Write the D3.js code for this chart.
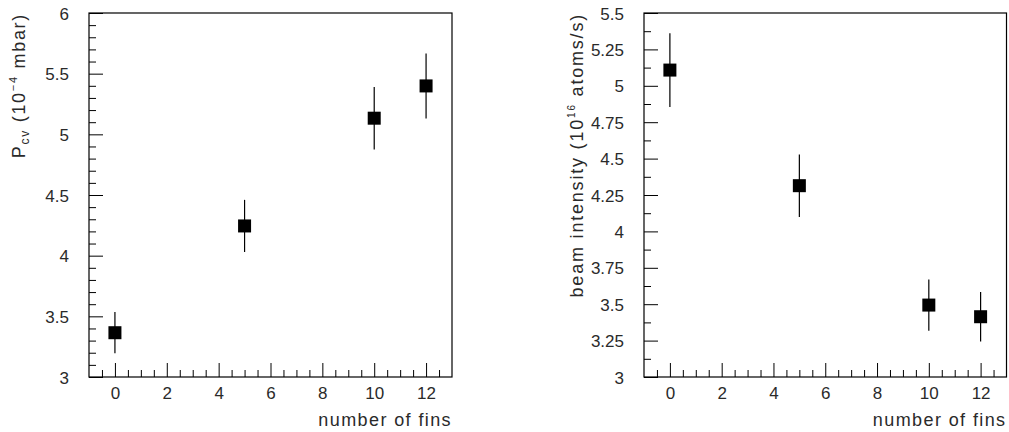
<!DOCTYPE html>
<html>
<head>
<meta charset="utf-8">
<script src="https://cdn.jsdelivr.net/npm/d3@7"></script>
<style>
  html, body { margin: 0; padding: 0; background: #fff; }
  svg { display: block; }
  text { font-family: "Liberation Sans", Arial, sans-serif; fill: #2a2a2a; }
</style>
</head>
<body>
<svg id="chart" width="1009" height="432"></svg>
<script>
// ---- data ----
const fins = [0, 5, 10, 12];
const pressure = [3.365, 4.245, 5.133, 5.399];
const pressureErr = [0.17, 0.215, 0.257, 0.268];
const intensity = [5.108, 4.314, 3.494, 3.414];
const intensityErr = [0.253, 0.215, 0.176, 0.17];

const xMajorTicks = [0, 2, 4, 6, 8, 10, 12];
const leftYMajorTicks = [3, 3.5, 4, 4.5, 5, 5.5, 6];
const rightYMajorTicks = [3, 3.25, 3.5, 3.75, 4, 4.25, 4.5, 4.75, 5, 5.25, 5.5];

const svg = d3.select("#chart");

function panel(opts) {
  const x = d3.scaleLinear().domain([-1, 13]).range([opts.x0, opts.x1]);
  const y = d3.scaleLinear().domain(opts.yDomain).range([377, 13]);
  const g = svg.append("g");

  // minor x ticks
  const xMinor = d3.range(-0.5, 13, 0.5).filter(v => xMajorTicks.indexOf(v) < 0);
  g.append("g").attr("transform", "translate(0,377)")
    .call(d3.axisBottom(x).tickValues(xMinor).tickSize(-7).tickFormat(""))
    .call(s => s.select(".domain").remove());
  g.append("g").attr("transform", "translate(0,377)")
    .call(d3.axisBottom(x).tickValues(xMajorTicks).tickSize(-14).tickPadding(10).tickFormat(d3.format("d")))
    .call(s => s.select(".domain").remove())
    .call(s => s.selectAll("text").attr("font-size", 17).style("font-family", "Liberation Sans, Arial, sans-serif"));

  // minor y ticks
  const yMinor = d3.range(opts.yDomain[0], opts.yDomain[1] + 1e-9, opts.yMinorStep)
    .map(v => +v.toFixed(4))
    .filter(v => !opts.yMajor.some(m => Math.abs(m - v) < 1e-6));
  g.append("g").attr("transform", `translate(${opts.x0},0)`)
    .call(d3.axisLeft(y).tickValues(yMinor).tickSize(-7).tickFormat(""))
    .call(s => s.select(".domain").remove());
  g.append("g").attr("transform", `translate(${opts.x0},0)`)
    .call(d3.axisLeft(y).tickValues(opts.yMajor).tickSize(-14).tickPadding(20).tickFormat(d => String(d)))
    .call(s => s.select(".domain").remove())
    .call(s => s.selectAll("text").attr("font-size", 17).attr("dy", "0.36em").style("font-family", "Liberation Sans, Arial, sans-serif"));

  g.selectAll(".tick line").attr("stroke", "#000").attr("stroke-width", 1);

  // frame
  g.append("rect")
    .attr("x", opts.x0).attr("y", 13)
    .attr("width", opts.x1 - opts.x0).attr("height", 364)
    .attr("fill", "none").attr("stroke", "#000").attr("stroke-width", 1.2);

  // error bars
  g.selectAll("line.err").data(fins).enter().append("line")
    .attr("class", "err")
    .attr("x1", (d) => x(d)).attr("x2", (d) => x(d))
    .attr("y1", (d, i) => y(opts.values[i] - opts.errs[i]))
    .attr("y2", (d, i) => y(opts.values[i] + opts.errs[i]))
    .attr("stroke", "#000").attr("stroke-width", 1.2);

  // markers
  const m = 13;
  g.selectAll("rect.pt").data(fins).enter().append("rect")
    .attr("class", "pt")
    .attr("x", d => x(d) - m / 2)
    .attr("y", (d, i) => y(opts.values[i]) - m / 2)
    .attr("width", m).attr("height", m)
    .attr("fill", "#000");

  // x title
  g.append("text")
    .attr("x", opts.x1).attr("y", 426)
    .attr("text-anchor", "end")
    .attr("font-size", 18)
    .attr("letter-spacing", "1.4px")
    .text("number of fins");

  // y title
  const t = g.append("text")
    .attr("transform", `translate(${opts.yTitleX},13) rotate(-90)`)
    .attr("text-anchor", "end")
    .attr("font-size", 18)
    .attr("letter-spacing", opts.yTitleSpacing);
  opts.yTitle(t);
}

panel({
  x0: 89, x1: 452,
  yDomain: [3, 6], yMajor: leftYMajorTicks, yMinorStep: 0.1,
  values: pressure, errs: pressureErr,
  yTitleX: 25, yTitleSpacing: "1.7px",
  yTitle: t => {
    t.append("tspan").text("P");
    t.append("tspan").attr("font-size", 12).attr("dy", 4).text("cv");
    t.append("tspan").attr("dy", -4).text(" (10");
    t.append("tspan").attr("font-size", 11).attr("dy", -8).text("\u22124");
    t.append("tspan").attr("dy", 8).text(" mbar)");
  }
});

panel({
  x0: 644, x1: 1006.5,
  yDomain: [3, 5.5], yMajor: rightYMajorTicks, yMinorStep: 0.125,
  values: intensity, errs: intensityErr,
  yTitleX: 583, yTitleSpacing: "1.8px",
  yTitle: t => {
    t.append("tspan").text("beam intensity (10");
    t.append("tspan").attr("font-size", 10).attr("dy", -8).text("16");
    t.append("tspan").attr("dy", 8).text(" atoms/s)");
  }
});
</script>
</body>
</html>
